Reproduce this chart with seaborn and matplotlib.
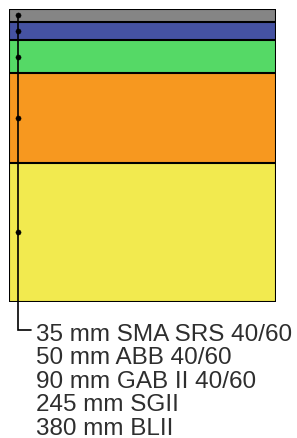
import numpy as np
import pandas as pd
import matplotlib
matplotlib.use("Agg")
import matplotlib.pyplot as plt
import seaborn as sns

# Layer data (top to bottom)
thickness = [35, 50, 90, 245, 380]
materials = ["SMA SRS 40/60", "ABB 40/60", "GAB II 40/60", "SGII", "BLII"]
colors = ["#858585", "#4552a2", "#55d966", "#f7981f", "#f2ea4f"]

depth_bottom = np.cumsum(thickness)
depth_mid = depth_bottom - np.array(thickness) / 2
total = depth_bottom[-1]

df = pd.DataFrame({
    "pavement": ["road"] * len(thickness),
    "layer": materials,
    "depth": depth_bottom,
})

sns.set_style("white")
plt.rcParams["font.family"] = ["Liberation Sans", "DejaVu Sans"]

W, H = 297, 439
fig = plt.figure(figsize=(W / 100, H / 100), dpi=100)

# axes in pixel placement
left, right, top, bottom = 9, 276, 10, 303
ax = fig.add_axes([left / W, 1 - bottom / H, (right - left) / W, (bottom - top) / H])

# draw deepest layer first, shallower layers painted on top
order = materials[::-1]
sns.barplot(data=df, x="pavement", y="depth", hue="layer", hue_order=order,
            palette=dict(zip(materials, colors)), dodge=False, width=1,
            saturation=1, edgecolor="black", linewidth=1.5, legend=False, ax=ax)

# marker line with dots at layer centres
mm_per_px = total / (bottom - top)
x_of = lambda px: -0.5 + (px - left) / (right - left)
xl = x_of(17.5)
y_end = (331 - top) * mm_per_px
ax.plot([xl, xl, x_of(31)], [depth_mid[0], y_end, y_end], color="black",
        lw=1.2, clip_on=False, solid_joinstyle="miter")
sns.scatterplot(x=[xl] * len(depth_mid), y=depth_mid, color="black", s=14,
                marker="o", edgecolor="black", ax=ax, clip_on=False, zorder=5)
ax.set_xlim(-0.5, 0.5)
ax.set_ylim(total, 0)
ax.axis("off")

# labels
baselines = [341, 364.5, 388, 411.5, 435]
for b, t, m in zip(baselines, thickness, materials):
    fig.text(36 / W, 1 - b / H, f"{t} mm {m}", fontsize=17.5, color="#2e2e2e",
             va="baseline", ha="left")

plt.savefig("out.png", dpi=100)
